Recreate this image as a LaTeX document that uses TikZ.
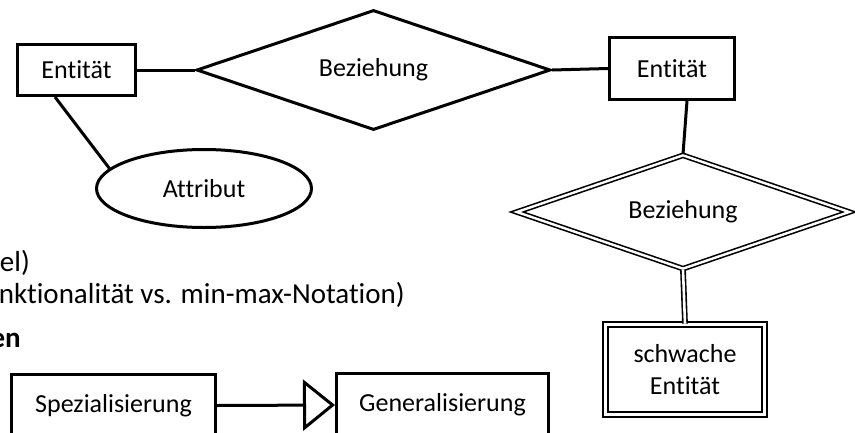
\documentclass[tikz,border=0pt]{standalone}
\usepackage{fontspec}
\setmainfont{Carlito}[Ligatures=NoCommon]
\usetikzlibrary{shapes.geometric,arrows.meta}
\begin{document}
\begin{tikzpicture}[x=1pt,y=-1pt,
  lbl/.style={font=\fontsize{26}{32}\selectfont},
  entity/.style={lbl,draw,rectangle,line width=3pt,inner sep=0pt},
  rel/.style={lbl,draw,diamond,aspect=2.8,line width=3pt,inner sep=0pt},
  weakrel/.style={lbl,draw,diamond,aspect=2.8,double,line width=1.6pt,double distance=2.4pt,inner sep=0pt},
  weakent/.style={lbl,draw,rectangle,double,line width=1.8pt,double distance=3.2pt,inner sep=0pt,align=center},
  attr/.style={lbl,draw,ellipse,line width=3pt,inner sep=0pt},
  conn/.style={line width=3pt},
  dconn/.style={double,line width=1.6pt,double distance=2.6pt},
  isa/.style={line width=3pt,-{Triangle[open,length=32pt,width=51pt]}},
  bullet/.style={font=\fontsize{29}{35}\selectfont,inner sep=0pt,anchor=base east}
]
\clip (0,0) rectangle (855,432);
\useasboundingbox (0,0) rectangle (855,432);

% bullet text fragments
\node[bullet] (t1) at (30,271) {el)};
\node[bullet] (t2) at (405,303) {nktionalität vs. min-max-Notation)};
\node[bullet,font=\fontsize{29}{35}\selectfont\bfseries] (t3) at (21,347) {en};

% ER diagram
\node[entity,minimum width=118,minimum height=51] (e1) at (76.5,70) {Entität};
\node[rel,minimum width=354,minimum height=120] (r1) at (373.5,70) {Beziehung};
\node[entity,minimum width=125,minimum height=62] (e2) at (672,68.5) {Entität};
\node[attr,minimum width=215,minimum height=78] (a1) at (204,188.5) {Attribut};
\node[weakrel,minimum width=333,minimum height=114] (r2) at (683,212) {Beziehung};
\node[weakent,minimum width=159,minimum height=90] (w1) at (685,369.5) {schwache\\Entität};

\draw[conn] (e1.east) -- (r1.west);
\draw[conn] (r1.east) -- (e2.west);
\draw[conn] ([xshift=-21.5pt]e1.south) -- (a1.168);
\draw[conn] ([xshift=15pt]e2.south) -- (r2.north);
\draw[dconn] (r2.south) -- (w1.north);

% generalisation
\node[entity,minimum width=204,minimum height=62] (s1) at (113.5,405.5) {Spezialisierung};
\node[entity,minimum width=212,minimum height=63] (g1) at (442.5,405) {Generalisierung};
\draw[isa] (s1.east) -- (g1.west);
\end{tikzpicture}
\end{document}
